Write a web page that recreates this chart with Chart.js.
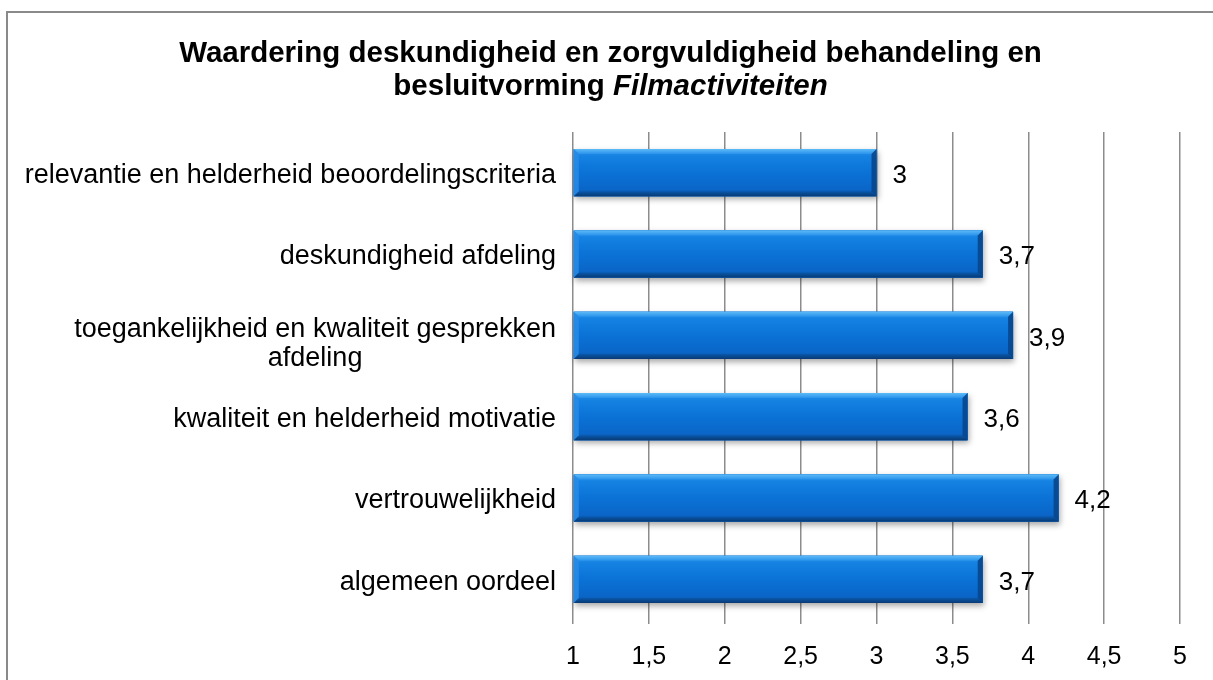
<!DOCTYPE html>
<html>
<head>
<meta charset="utf-8">
<script src="https://cdn.jsdelivr.net/npm/chart.js@4.4.1/dist/chart.umd.min.js"></script>
<style>
  html, body { margin: 0; padding: 0; background: #fff; overflow: hidden; width: 1213px; height: 680px; }
  #frame { position: absolute; left: 6px; top: 11px; width: 1300px; height: 800px; border-left: 2px solid #8a8a8a; border-top: 2px solid #8a8a8a; }
  #title { position: absolute; left: 4px; width: 1213px; top: 35px; text-align: center; font-family: "Liberation Sans", Arial, sans-serif; font-weight: bold; font-size: 29.5px; line-height: 33px; color: #000; }
  #wrap { position: absolute; left: 0; top: 0; width: 1213px; height: 680px; }
</style>
</head>
<body>
<div id="frame"></div>
<div id="wrap"><canvas id="c" width="1213" height="680"></canvas></div>
<div id="title">Waardering deskundigheid en zorgvuldigheid behandeling en<br>besluitvorming <i>Filmactiviteiten</i></div>
<script>
const categories = [
  ["relevantie en helderheid beoordelingscriteria"],
  ["deskundigheid afdeling"],
  ["toegankelijkheid en kwaliteit gesprekken", "afdeling"],
  ["kwaliteit en helderheid motivatie"],
  ["vertrouwelijkheid"],
  ["algemeen oordeel"]
];
const values = [3, 3.7, 3.9, 3.6, 4.2, 3.7];
const axisMin = 1;
const axisMax = 5;
const axisStep = 0.5;

const FONT = '"Liberation Sans", Arial, sans-serif';
const fmt = v => String(v).replace('.', ',');

function barBox(el) {
  const p = el.getProps(['x', 'y', 'base', 'height'], true);
  return { left: Math.min(p.base, p.x), right: Math.max(p.base, p.x), top: p.y - p.height / 2, bottom: p.y + p.height / 2, y: p.y, x: p.x };
}

const bevelPlugin = {
  id: 'bevelBars',
  beforeDatasetsDraw(chart) {
    const ctx = chart.ctx;
    chart.getDatasetMeta(0).data.forEach(el => {
      const b = barBox(el);
      ctx.save();
      ctx.shadowColor = 'rgba(0,0,0,0.35)';
      ctx.shadowBlur = 6;
      ctx.shadowOffsetX = 1;
      ctx.shadowOffsetY = 3;
      ctx.fillStyle = '#0a5fbf';
      ctx.fillRect(b.left, b.top, b.right - b.left, b.bottom - b.top);
      ctx.restore();
    });
  },
  afterDatasetsDraw(chart) {
    const ctx = chart.ctx;
    const ds = chart.data.datasets[0];
    chart.getDatasetMeta(0).data.forEach((el, i) => {
      const b = barBox(el);
      const w = b.right - b.left, h = b.bottom - b.top, d = 5;
      ctx.save();
      const g = ctx.createLinearGradient(0, b.top, 0, b.bottom);
      g.addColorStop(0, '#2f96ec');
      g.addColorStop(0.15, '#1582e2');
      g.addColorStop(0.5, '#0b72d6');
      g.addColorStop(0.85, '#0a66c8');
      g.addColorStop(1, '#0a55a8');
      ctx.fillStyle = g;
      ctx.fillRect(b.left, b.top, w, h);
      const poly = (pts, col) => {
        ctx.beginPath();
        ctx.moveTo(pts[0][0], pts[0][1]);
        for (let k = 1; k < pts.length; k++) ctx.lineTo(pts[k][0], pts[k][1]);
        ctx.closePath();
        ctx.fillStyle = col;
        ctx.fill();
      };
      const gt = ctx.createLinearGradient(0, b.top, 0, b.top + d);
      gt.addColorStop(0, '#5cbaf8');
      gt.addColorStop(1, '#2a92ea');
      poly([[b.left, b.top], [b.right, b.top], [b.right - d, b.top + d], [b.left + d, b.top + d]], gt);
      const gb = ctx.createLinearGradient(0, b.bottom - d, 0, b.bottom);
      gb.addColorStop(0, '#0a58ac');
      gb.addColorStop(1, '#073a74');
      poly([[b.left, b.bottom], [b.right, b.bottom], [b.right - d, b.bottom - d], [b.left + d, b.bottom - d]], gb);
      poly([[b.left, b.top], [b.left + d, b.top + d], [b.left + d, b.bottom - d], [b.left, b.bottom]], 'rgba(40,140,230,0.85)');
      poly([[b.right, b.top], [b.right - d, b.top + d], [b.right - d, b.bottom - d], [b.right, b.bottom]], 'rgba(8,70,140,0.9)');
      ctx.restore();

      ctx.save();
      ctx.font = '26px ' + FONT;
      ctx.fillStyle = '#000';
      ctx.textAlign = 'left';
      ctx.textBaseline = 'middle';
      ctx.fillText(fmt(ds.data[i]), b.right + 16, b.y + 3);
      ctx.restore();
    });
  }
};

const yLabelPlugin = {
  id: 'yLabels',
  afterDraw(chart) {
    const ctx = chart.ctx;
    const ys = chart.scales.y;
    const rightEdge = chart.chartArea.left - 17;
    ctx.save();
    ctx.font = '27px ' + FONT;
    ctx.fillStyle = '#000';
    ctx.textBaseline = 'middle';
    chart.data.labels.forEach((lines, i) => {
      const cy = ys.getPixelForValue(i) + 3;
      const maxW = Math.max(...lines.map(l => ctx.measureText(l).width));
      const cx = rightEdge - maxW / 2;
      const n = lines.length;
      const lh = 29;
      const extra = n > 1 ? 6 : 0;
      lines.forEach((l, k) => {
        ctx.textAlign = 'center';
        ctx.fillText(l, cx, cy + extra + (k - (n - 1) / 2) * lh);
      });
    });
    ctx.restore();
  }
};

new Chart(document.getElementById('c'), {
  type: 'bar',
  data: {
    labels: categories,
    datasets: [{
      data: values,
      base: axisMin,
      backgroundColor: '#0b6fd1',
      borderWidth: 0,
      barPercentage: 0.58,
      categoryPercentage: 1
    }]
  },
  options: {
    indexAxis: 'y',
    responsive: false,
    animation: false,
    layout: { padding: { top: 132, right: 33, bottom: 0, left: 0 } },
    plugins: { legend: { display: false }, tooltip: { enabled: false }, title: { display: false } },
    scales: {
      x: {
        type: 'linear',
        min: axisMin,
        max: axisMax,
        ticks: {
          stepSize: axisStep,
          callback: v => fmt(v),
          font: { family: FONT, size: 25 },
          color: '#000',
          padding: 18
        },
        grid: { color: '#8c8c8c', lineWidth: 1.5, drawTicks: true, tickLength: 4 },
        border: { display: false },
        afterFit: s => { s.height = 60; }
      },
      y: {
        ticks: { display: false },
        grid: { display: false },
        border: { display: false },
        afterFit: s => { s.width = 573; }
      }
    }
  },
  plugins: [bevelPlugin, yLabelPlugin]
});
</script>
</body>
</html>
